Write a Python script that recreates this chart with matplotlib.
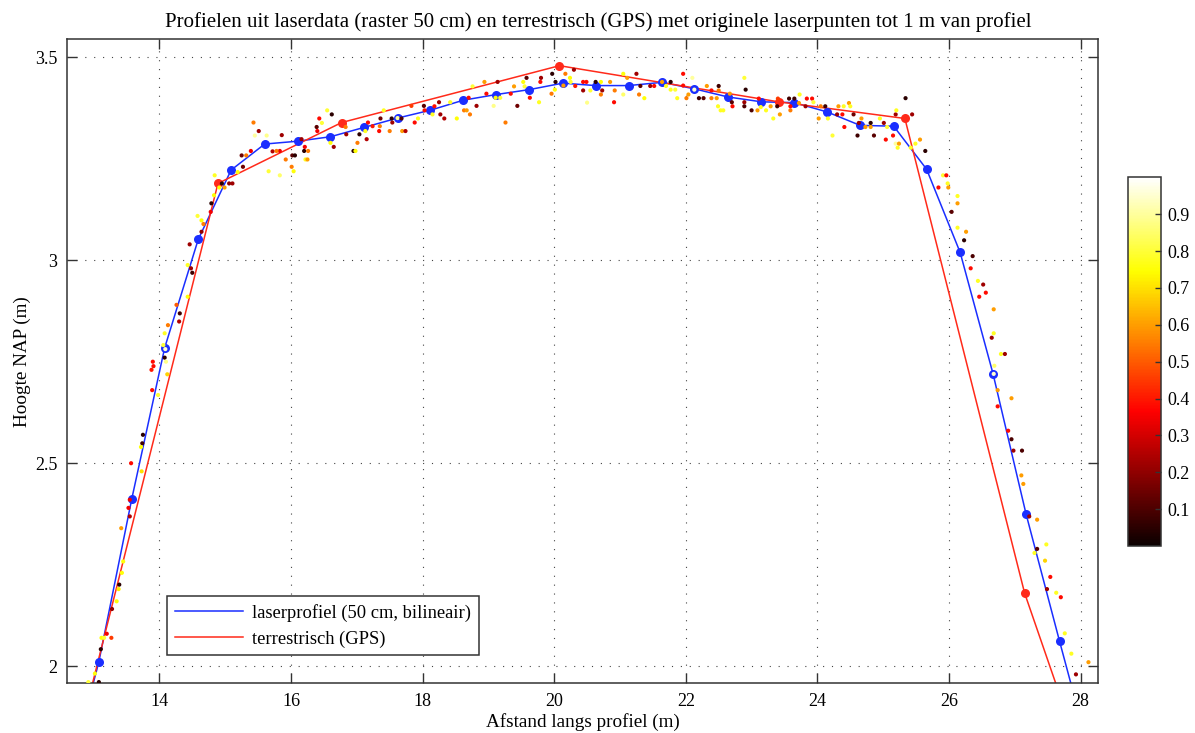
import numpy as np
from matplotlib import pyplot as plt
from matplotlib import colors as mcolors

plt.rcParams['font.family'] = ['Liberation Serif', 'DejaVu Serif']

# laserprofiel (raster 50 cm, bilineair), first/last points lie outside the view
laser_x = [12.58, 13.08, 13.58, 14.08, 14.59, 15.09, 15.60, 16.10, 16.60, 17.11, 17.62,
           18.11, 18.62, 19.12, 19.62, 20.13, 20.63, 21.13, 21.64, 22.13, 22.64, 23.15,
           23.65, 24.15, 24.65, 25.16, 25.66, 26.17, 26.67, 27.17, 27.68, 28.18]
laser_y = [1.70, 2.011, 2.412, 2.784, 3.051, 3.222, 3.286, 3.293, 3.304, 3.327, 3.350,
           3.369, 3.394, 3.408, 3.420, 3.436, 3.430, 3.430, 3.438, 3.422, 3.402, 3.390,
           3.388, 3.365, 3.332, 3.330, 3.224, 3.019, 2.720, 2.376, 2.062, 1.76]

# terrestrisch (GPS)
gps_x = [12.60, 14.89, 16.77, 20.08, 23.41, 25.33, 27.15, 28.30]
gps_y = [1.71, 3.189, 3.339, 3.479, 3.390, 3.349, 2.180, 1.64]

# originele laserpunten tot 1 m van profiel (x, hoogte, kleurwaarde)
pts = [
    (13.75, 2.570, 0.05), (13.74, 2.549, 0.08), (13.72, 2.540, 0.75), (13.57, 2.500, 0.38),
    (13.73, 2.480, 0.70), (13.55, 2.410, 0.35), (13.53, 2.390, 0.35), (13.55, 2.369, 0.25),
    (13.42, 2.340, 0.60), (13.45, 2.258, 0.75), (13.43, 2.230, 0.75), (13.39, 2.201, 0.05),
    (13.38, 2.190, 0.72), (13.35, 2.160, 0.75), (13.28, 2.141, 0.20), (13.20, 2.080, 0.35),
    (13.27, 2.070, 0.45), (13.12, 2.070, 0.75), (13.16, 2.070, 0.80), (13.11, 2.042, 0.05),
    (13.02, 1.982, 0.75), (12.92, 1.961, 0.80), (13.08, 1.961, 0.05),
    (15.27, 3.230, 0.15), (15.19, 3.217, 0.75), (14.84, 3.209, 0.78), (14.95, 3.189, 0.05),
    (15.06, 3.189, 0.20), (15.11, 3.189, 0.22), (14.99, 3.179, 0.60), (14.91, 3.179, 0.75),
    (14.83, 3.160, 0.75), (14.79, 3.140, 0.05), (14.78, 3.119, 0.35), (14.58, 3.109, 0.80),
    (14.64, 3.098, 0.75), (14.67, 3.089, 0.55), (14.64, 3.070, 0.20), (14.46, 3.039, 0.22),
    (14.43, 2.988, 0.78), (14.48, 2.980, 0.22), (14.50, 2.969, 0.08), (14.43, 2.910, 0.75),
    (14.26, 2.890, 0.50), (14.31, 2.869, 0.08), (14.30, 2.849, 0.25), (14.13, 2.840, 0.55),
    (14.08, 2.820, 0.78), (14.06, 2.791, 0.80), (14.09, 2.781, 0.95), (14.08, 2.760, 0.05),
    (13.90, 2.750, 0.38), (13.91, 2.739, 0.38), (13.88, 2.730, 0.40), (14.10, 2.750, 0.88),
    (14.12, 2.719, 0.68), (13.89, 2.680, 0.38), (13.98, 2.668, 0.80),
    (15.25, 3.258, 0.15), (15.32, 3.258, 0.55), (15.39, 3.269, 0.35), (15.43, 3.339, 0.55),
    (15.51, 3.318, 0.22), (15.45, 3.307, 0.90), (15.63, 3.307, 0.88), (15.86, 3.308, 0.22),
    (15.66, 3.219, 0.80), (15.83, 3.209, 0.85), (15.72, 3.268, 0.25), (15.83, 3.269, 0.35),
    (15.78, 3.269, 0.55), (15.92, 3.248, 0.55), (16.01, 3.230, 0.55), (16.04, 3.219, 0.75),
    (16.02, 3.258, 0.12), (16.06, 3.258, 0.05), (16.21, 3.279, 0.35), (16.20, 3.269, 0.05),
    (16.26, 3.269, 0.55), (16.22, 3.248, 0.78), (16.25, 3.248, 0.60), (16.16, 3.298, 0.22),
    (16.39, 3.328, 0.12), (16.40, 3.318, 0.35), (16.43, 3.349, 0.38), (16.47, 3.338, 0.80),
    (16.55, 3.369, 0.80), (16.62, 3.359, 0.05), (16.60, 3.289, 0.75), (16.65, 3.279, 0.22),
    (16.83, 3.328, 0.55), (16.84, 3.310, 0.22), (16.95, 3.269, 0.05), (16.98, 3.269, 0.75),
    (17.01, 3.289, 0.55), (17.04, 3.310, 0.05), (17.15, 3.298, 0.25), (17.13, 3.318, 0.78),
    (17.17, 3.339, 0.38), (17.24, 3.330, 0.40), (17.34, 3.318, 0.38), (17.35, 3.330, 0.55),
    (17.36, 3.349, 0.15), (17.41, 3.369, 0.78), (17.50, 3.318, 0.55), (17.54, 3.339, 0.22),
    (17.53, 3.349, 0.05), (17.62, 3.350, 0.90), (17.68, 3.349, 0.10), (17.69, 3.318, 0.60),
    (17.74, 3.318, 0.25), (17.88, 3.339, 0.38), (17.93, 3.349, 0.78), (17.83, 3.380, 0.45),
    (18.02, 3.380, 0.12), (18.03, 3.369, 0.38), (18.15, 3.359, 0.78), (18.18, 3.379, 0.38),
    (18.25, 3.389, 0.22), (18.27, 3.359, 0.22), (18.33, 3.349, 0.25), (18.42, 3.389, 0.78),
    (18.52, 3.349, 0.75), (18.63, 3.369, 0.55), (18.67, 3.369, 0.60), (18.72, 3.359, 0.55),
    (18.70, 3.400, 0.38), (18.82, 3.380, 0.22), (18.76, 3.428, 0.80), (18.94, 3.439, 0.60),
    (18.97, 3.410, 0.38), (19.08, 3.380, 0.88), (19.14, 3.439, 0.22), (19.11, 3.400, 0.75),
    (19.18, 3.400, 0.80), (19.26, 3.339, 0.55), (19.34, 3.410, 0.38), (19.39, 3.428, 0.60),
    (19.44, 3.380, 0.15), (19.53, 3.439, 0.75), (19.58, 3.449, 0.12), (19.55, 3.428, 0.80),
    (19.63, 3.400, 0.38), (19.77, 3.389, 0.78), (19.79, 3.439, 0.38), (19.80, 3.449, 0.22),
    (19.96, 3.410, 0.55), (19.97, 3.459, 0.05), (20.01, 3.420, 0.75),
    (20.17, 3.459, 0.55), (20.24, 3.449, 0.75), (20.30, 3.469, 0.22), (20.25, 3.439, 0.80),
    (20.14, 3.430, 0.60), (20.02, 3.439, 0.05), (20.32, 3.429, 0.40), (20.44, 3.439, 0.38),
    (20.49, 3.439, 0.38), (20.44, 3.418, 0.22), (20.50, 3.388, 0.88), (20.55, 3.418, 0.80),
    (20.63, 3.439, 0.05), (20.71, 3.439, 0.75), (20.73, 3.418, 0.22), (20.71, 3.408, 0.55),
    (20.85, 3.439, 0.60), (20.91, 3.389, 0.38), (20.92, 3.418, 0.55), (21.05, 3.459, 0.75),
    (21.11, 3.449, 0.60), (21.05, 3.408, 0.85), (21.25, 3.459, 0.22), (21.31, 3.429, 0.12),
    (21.29, 3.408, 0.55), (21.37, 3.399, 0.75), (21.46, 3.429, 0.22), (21.52, 3.429, 0.38),
    (21.64, 3.439, 0.60), (21.70, 3.429, 0.78), (21.77, 3.439, 0.05), (21.77, 3.420, 0.78),
    (21.84, 3.420, 0.80), (21.87, 3.399, 0.78), (21.96, 3.459, 0.38), (21.96, 3.430, 0.38),
    (22.01, 3.399, 0.55), (22.04, 3.408, 0.60), (22.10, 3.449, 0.90), (22.13, 3.420, 0.95),
    (22.20, 3.399, 0.08), (22.27, 3.399, 0.12), (22.32, 3.429, 0.60), (22.39, 3.418, 0.38),
    (22.39, 3.399, 0.55), (22.47, 3.399, 0.60), (22.50, 3.429, 0.08), (22.50, 3.418, 0.55),
    (22.49, 3.379, 0.78), (22.53, 3.369, 0.78), (22.57, 3.369, 0.78), (22.67, 3.410, 0.60),
    (22.71, 3.379, 0.38), (22.70, 3.389, 0.12), (22.89, 3.449, 0.80), (22.91, 3.420, 0.05),
    (22.89, 3.389, 0.22), (22.89, 3.379, 0.10), (23.00, 3.369, 0.10), (23.09, 3.369, 0.60),
    (23.11, 3.398, 0.38), (23.14, 3.377, 0.78), (23.22, 3.369, 0.78), (23.29, 3.379, 0.60),
    (23.33, 3.349, 0.78), (23.40, 3.398, 0.45), (23.39, 3.379, 0.08), (23.43, 3.359, 0.60),
    (23.57, 3.398, 0.08), (23.59, 3.369, 0.55), (23.59, 3.379, 0.38), (23.65, 3.398, 0.08),
    (23.73, 3.408, 0.78), (23.72, 3.387, 0.60), (23.84, 3.398, 0.38), (23.92, 3.398, 0.38),
    (23.94, 3.389, 0.80), (23.82, 3.379, 0.22), (24.02, 3.349, 0.60), (24.05, 3.379, 0.55),
    (24.12, 3.379, 0.08), (24.16, 3.349, 0.78), (24.23, 3.307, 0.80), (24.30, 3.359, 0.22),
    (24.32, 3.379, 0.60), (24.38, 3.359, 0.38), (24.40, 3.379, 0.78), (24.48, 3.387, 0.60),
    (24.41, 3.328, 0.38), (24.50, 3.379, 0.78), (24.55, 3.359, 0.15), (24.63, 3.338, 0.22),
    (24.67, 3.349, 0.60), (24.61, 3.307, 0.08), (24.73, 3.328, 0.60), (24.81, 3.338, 0.05),
    (24.81, 3.328, 0.60), (24.86, 3.307, 0.12), (24.95, 3.349, 0.78), (25.01, 3.338, 0.22),
    (25.04, 3.297, 0.38), (25.06, 3.328, 0.80), (25.15, 3.307, 0.38), (25.19, 3.359, 0.22),
    (25.20, 3.369, 0.78), (25.19, 3.287, 0.90), (25.24, 3.287, 0.60), (25.22, 3.277, 0.78),
    (25.34, 3.399, 0.05), (25.44, 3.359, 0.22), (25.42, 3.277, 0.78), (25.49, 3.287, 0.78),
    (25.56, 3.297, 0.60),
    (25.64, 3.269, 0.05), (25.91, 3.209, 0.80), (25.96, 3.209, 0.38), (25.98, 3.189, 0.78),
    (25.84, 3.179, 0.38), (25.99, 3.179, 0.60), (26.13, 3.158, 0.78), (26.13, 3.140, 0.60),
    (26.04, 3.119, 0.12), (26.13, 3.080, 0.78), (26.26, 3.070, 0.60), (26.23, 3.049, 0.05),
    (26.36, 3.010, 0.10), (26.33, 2.980, 0.38), (26.44, 2.949, 0.78), (26.52, 2.940, 0.22),
    (26.56, 2.920, 0.38), (26.46, 2.910, 0.38), (26.68, 2.879, 0.60), (26.68, 2.820, 0.78),
    (26.65, 2.809, 0.22), (26.79, 2.769, 0.78), (26.85, 2.769, 0.22), (26.69, 2.740, 0.85),
    (26.68, 2.720, 0.95), (26.74, 2.680, 0.60), (26.95, 2.660, 0.60), (26.74, 2.640, 0.38),
    (26.90, 2.580, 0.38), (26.95, 2.559, 0.10), (26.98, 2.531, 0.22), (27.11, 2.531, 0.10),
    (27.10, 2.470, 0.60), (27.13, 2.449, 0.60), (27.22, 2.369, 0.22), (27.34, 2.361, 0.60),
    (27.48, 2.300, 0.78), (27.34, 2.289, 0.12), (27.30, 2.279, 0.78), (27.46, 2.260, 0.68),
    (27.54, 2.220, 0.38), (27.49, 2.190, 0.22), (27.63, 2.181, 0.78), (27.70, 2.170, 0.38),
    (27.76, 2.081, 0.78), (27.86, 2.031, 0.78), (28.12, 2.010, 0.60), (27.93, 1.980, 0.22),
]
pts_x = [p[0] for p in pts]
pts_y = [p[1] for p in pts]
pts_c = [p[2] for p in pts]

xticks = [14, 16, 18, 20, 22, 24, 26, 28]
yticks = [2, 2.5, 3, 3.5]
ytick_labels = ['2', '2.5', '3', '3.5']
cticks = [0.1, 0.2, 0.3, 0.4, 0.5, 0.6, 0.7, 0.8, 0.9]

blue = '#1a2eff'
red = '#ff2a1a'
fs = 13

fig = plt.figure(figsize=(11.95, 7.33), dpi=100)
ax = fig.add_axes([0.0563, 0.0678, 0.8628, 0.8786])
cax = fig.add_axes([0.9442, 0.2552, 0.0270, 0.5028])

ax.plot(laser_x, laser_y, '-', color=blue, lw=1.1, label='laserprofiel (50 cm, bilineair)', zorder=2)
ax.plot(gps_x, gps_y, '-', color=red, lw=1.1, label='terrestrisch (GPS)', zorder=2)
ax.plot(laser_x, laser_y, 'o', color=blue, ms=6.5, mew=0, zorder=2.5)
ax.plot(gps_x, gps_y, 'o', color=red, ms=6.5, mew=0, zorder=2.5)

sc = ax.scatter(pts_x, pts_y, c=pts_c, cmap='hot', norm=mcolors.Normalize(0, 1),
                s=9, linewidths=0, zorder=3)

ax.set_xlim(12.6, 28.27)
ax.set_ylim(1.958, 3.544)
ax.set_xticks(xticks)
ax.set_yticks(yticks)
ax.set_yticklabels(ytick_labels)
ax.grid(True, linestyle=(0, (1, 7)), color='#444444', linewidth=0.8)
ax.tick_params(direction='in', top=True, right=True, length=7, width=1,
               color='#333333', labelsize=fs, pad=7)
for s in ax.spines.values():
    s.set_color('#333333')
    s.set_linewidth(1.1)

ax.set_title('Profielen uit laserdata (raster 50 cm) en terrestrisch (GPS) met originele laserpunten tot 1 m van profiel',
             fontsize=15, pad=9, x=0.5147)
ax.set_xlabel('Afstand langs profiel (m)', fontsize=13.8, labelpad=2)
ax.set_ylabel('Hoogte NAP (m)', fontsize=13.8, labelpad=3)

leg = ax.legend(loc='lower left', bbox_to_anchor=(0.0967, 0.0434), borderaxespad=0,
                fontsize=13.3, fancybox=False, handlelength=3.7, handletextpad=0.5,
                labelspacing=0.45, borderpad=0.42, framealpha=1)
leg.get_frame().set_edgecolor('#333333')
leg.get_frame().set_linewidth(1.1)

cb = fig.colorbar(sc, cax=cax, ticks=cticks)
cb.ax.set_yticklabels([str(t) for t in cticks])
cb.ax.tick_params(direction='in', length=4, width=1, color='#333333', labelsize=fs, pad=5)
cb.outline.set_edgecolor('#333333')
cb.outline.set_linewidth(1.1)

fig.savefig('out.png', dpi=100)
